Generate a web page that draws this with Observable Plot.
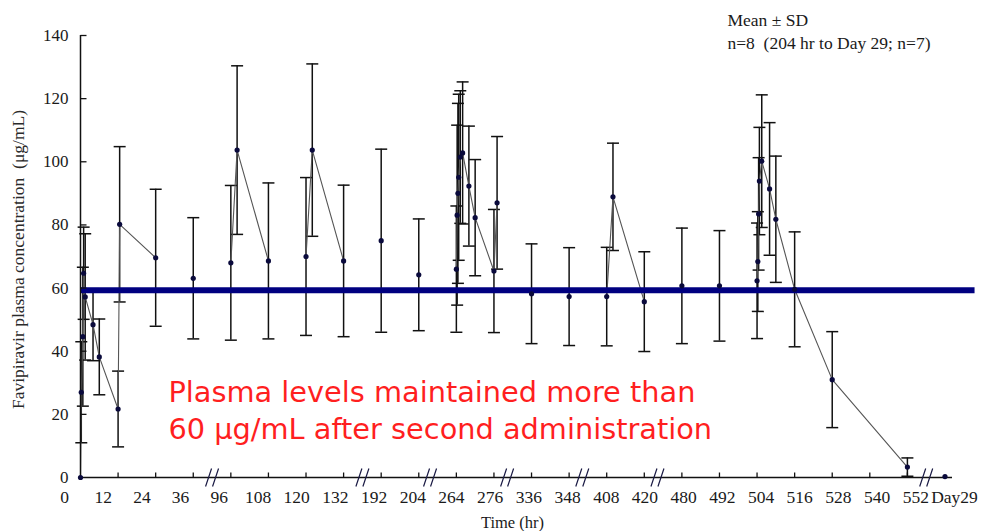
<!DOCTYPE html>
<html><head><meta charset="utf-8">
<script src="https://cdn.jsdelivr.net/npm/d3@7"></script>
<script src="https://cdn.jsdelivr.net/npm/@observablehq/plot@0.6"></script>
<style>body{margin:0;background:#fff;}</style>
</head><body><div id="chart"></div>
<script>
// ---- data (hours after first dose; Day29 = 672 hr) ----
const hours = [0,0.25,0.75,1,1.5,4,6,12,12.5,24, 36,
  96,98,108, 120,122,132, 192,204,
  264,264.25,264.5,264.75,265.25,266,268,270,276,277,
  336,348, 408,410,420, 480,492,
  504,504.25,504.5,504.75,505.5,508,510,516,528,552, 672];
const means = [0,27,44.6,64.7,57.2,48.4,38.2,21.7,80.2,69.6, 63.1,
  68.0,103.7,68.6, 70.0,103.7,68.6, 75.0,64.2,
  66.0,83.1,90.0,95.1,101.5,102.8,92.3,82.3,65.4,87.0,
  58.2,57.3, 57.3,88.9,55.7, 60.7,60.7,
  62.3,68.4,83.5,93.9,100.2,91.4,81.8,59.6,31.0,3.3, 0.3];
const sds = [0,16,22,14.6,20,11.4,12,12,24.6,21.7, 19.2,
  24.5,26.7,24.7, 25.0,27.3,24.0, 29.0,17.7,
  20.0,28.5,28.5,26.3,21.0,22.5,19.0,18.4,19.5,21.0,
  15.8,15.5, 15.6,17.0,15.8, 18.3,17.5,
  18.3,15.8,17.8,17.0,21.0,21.0,20.0,18.2,15.2,2.9, 0];
const doseGroup = ["A","A","A","A","A","A","A","A","A","A", "",
  "B","B","B", "C","C","C", "","",
  "D","D","D","D","D","D","D","D","D","D",
  "","", "E","E","E", "","",
  "F","F","F","F","F","F","F","F","F","F", ""];
const xTickLabels = ["0","12","24","36","96","108","120","132","192","204","264","276",
  "336","348","408","420","480","492","504","516","528","540","552","Day29"];
const yTicks = [0,20,40,60,80,100,120,140];
const targetLevel = 59.3;
const annotationLines = ["Plasma levels maintained more than", "60 \u03bcg/mL after second administration"];

// ---- broken time axis: each segment start hour -> axis slot ----
const segments = [[0,0],[96,4],[192,8],[264,10],[336,12],[408,14],[480,16],[672,23]];
function slot(h){ let s = segments[0]; for (const seg of segments) if (h >= seg[0]) s = seg; return s[1] + (h - s[0]) / 12; }
const axisBreaks = [3.5, 7.5, 9.3, 11.35, 13.35, 15.35, 22.5];

const data = hours.map((h, i) => ({u: slot(h), m: means[i], s: sds[i], g: doseGroup[i]}));
const bars = data.filter(d => d.s > 0);
const labelData = xTickLabels.map((t, i) => ({t, p: -0.425 + i * 1.0295}));

const cap = {draw(ctx){ ctx.moveTo(-6, 0); ctx.lineTo(6, 0); }};
const yTickSym = {draw(ctx){ ctx.moveTo(0, 0); ctx.lineTo(6, 0); }};
const xTickSym = {draw(ctx){ ctx.moveTo(0, 0); ctx.lineTo(0, -5); }};
const breakSym = {draw(ctx){ for (const o of [-3.5, 3.5]) { ctx.moveTo(o - 3, 9); ctx.lineTo(o + 3, -9); } }};

const serif = "'Liberation Serif', 'Times New Roman', serif";
const ink = "#111";

const chart = Plot.plot({
  width: 982, height: 531,
  marginLeft: 80, marginRight: 30, marginTop: 35, marginBottom: 54,
  style: {fontFamily: serif, fontSize: "17px", background: "#fff", color: "#1a1a1a"},
  x: {domain: [0, 23.2], axis: null},
  y: {domain: [0, 140], axis: null},
  marks: [
    Plot.ruleX(bars, {x: "u", y1: d => d.m - d.s, y2: d => d.m + d.s, stroke: ink, strokeWidth: 1.5}),
    Plot.dot(bars, {x: "u", y: d => d.m + d.s, symbol: cap, r: 6, stroke: ink, fill: "none", strokeWidth: 1.5}),
    Plot.dot(bars, {x: "u", y: d => d.m - d.s, symbol: cap, r: 6, stroke: ink, fill: "none", strokeWidth: 1.5}),
    Plot.line(data.filter(d => d.g), {x: "u", y: "m", z: "g", stroke: "#555", strokeWidth: 1.1}),
    Plot.ruleY([targetLevel], {x1: 0, x2: 23.8, stroke: "#000080", strokeWidth: 6}),
    Plot.ruleY([0], {stroke: ink, strokeWidth: 1.5}),
    Plot.ruleX([0], {stroke: ink, strokeWidth: 1.5}),
    Plot.dot(yTicks.slice(1), {x: 0, y: d => d, symbol: yTickSym, r: 6, stroke: ink, fill: "none", strokeWidth: 1.3}),
    Plot.dot(d3.range(1, 23), {x: d => d, y: 0, symbol: xTickSym, r: 5, stroke: ink, fill: "none", strokeWidth: 1.3}),
    Plot.dot(axisBreaks, {x: d => d, y: 0, symbol: breakSym, r: 9, stroke: "#1a1a44", fill: "none", strokeWidth: 1.2}),
    Plot.dot(data, {x: "u", y: "m", r: 2.6, fill: "#0a0a3c", stroke: "none"}),
    Plot.axisY({ticks: yTicks, tickSize: 0, tickPadding: 12, label: null, fontSize: 17, fill: "#1a1a1a"}),
    Plot.text(labelData, {x: "p", text: "t", frameAnchor: "bottom", lineAnchor: "middle", dy: 20, fontSize: 17.5, fill: "#1a1a1a"}),
    Plot.text(["Time (hr)"], {frameAnchor: "bottom", lineAnchor: "middle", dx: -4, dy: 45, fontSize: 16.5, fill: "#1a1a1a"}),
    Plot.text(["Favipiravir plasma concentration  (\u03bcg/mL)"], {frameAnchor: "left", textAnchor: "middle", lineAnchor: "middle", rotate: -90, dx: -62, dy: 3, fontSize: 17.5, fill: "#2a2a2a"}),
    Plot.text(["Mean \u00b1 SD"], {frameAnchor: "top-left", textAnchor: "start", lineAnchor: "middle", dx: 647, dy: -15, fontSize: 17.5, fill: "#1a1a1a"}),
    Plot.text(["n=8  (204 hr to Day 29; n=7)"], {frameAnchor: "top-left", textAnchor: "start", lineAnchor: "middle", dx: 647, dy: 8, fontSize: 17.5, fill: "#1a1a1a"}),
    Plot.text(annotationLines, {x: 2.34, y: (d, i) => i === 0 ? 26.9 : 15.2, text: d => d, textAnchor: "start", fontFamily: "'DejaVu Sans', sans-serif", fontSize: 28.8, fill: "#ff1f1f"})
  ]
});
document.getElementById("chart").appendChild(chart);
</script>
</body></html>
